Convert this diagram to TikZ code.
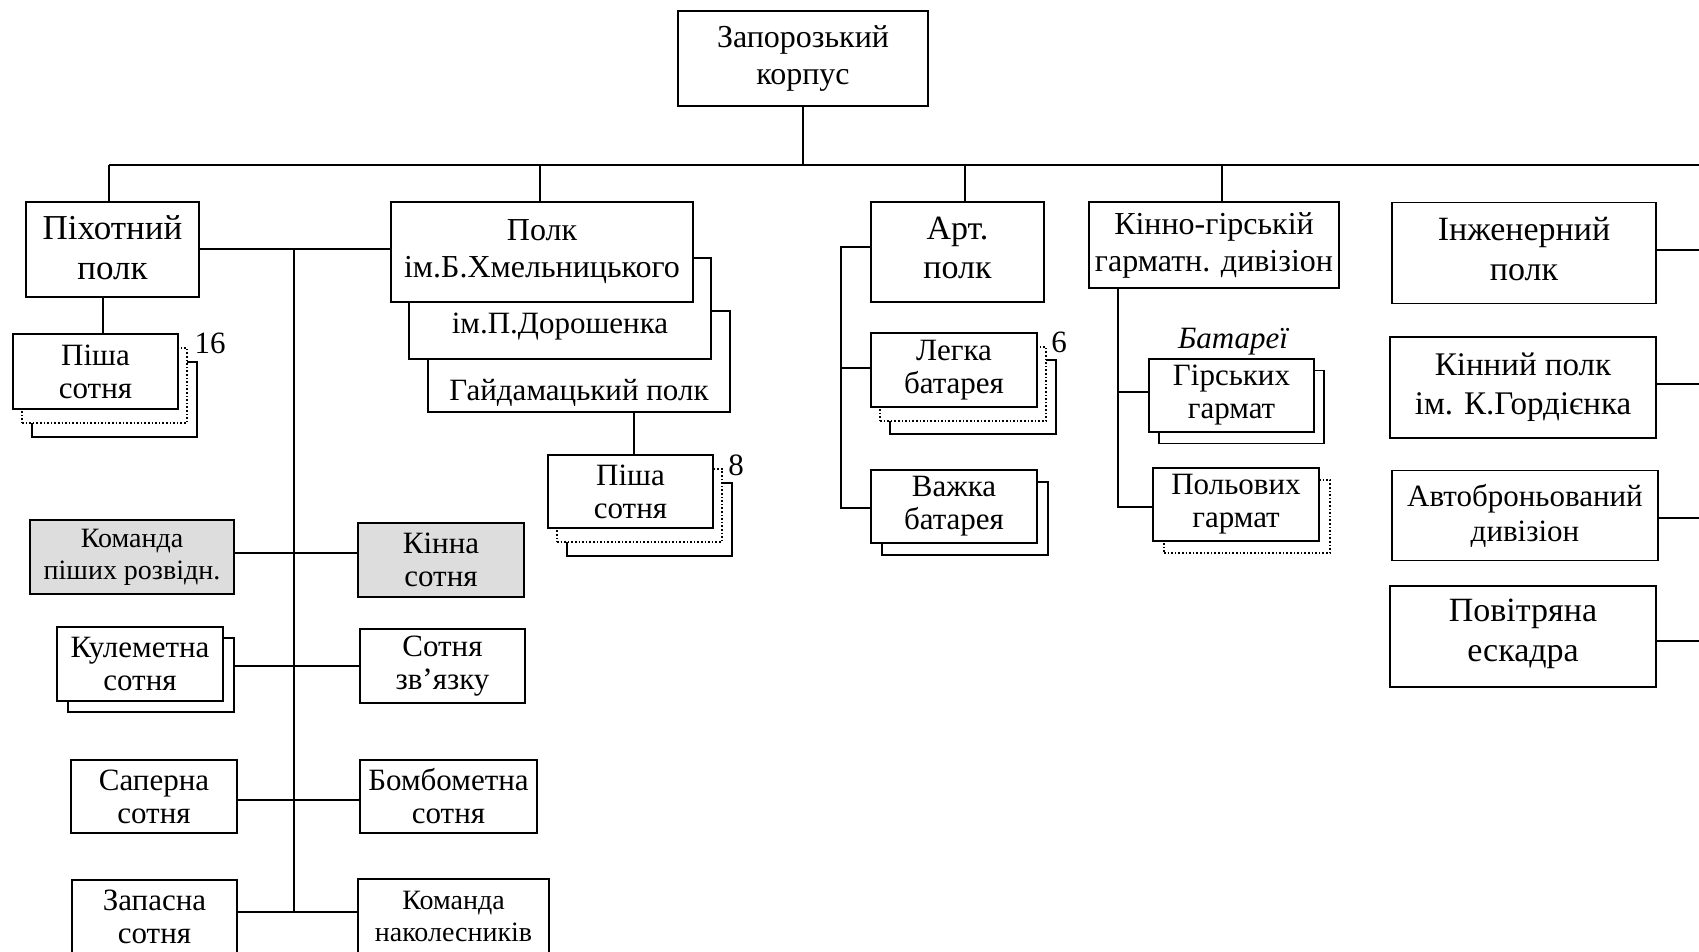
\documentclass[tikz,border=0pt]{standalone}
\usepackage{fontspec}
\setmainfont{Liberation Serif}
\definecolor{boxgray}{RGB}{221,221,221}
\begin{document}
\begin{tikzpicture}[x=1pt,y=-1pt,
  box/.style={draw, line width=1.6pt, fill=white, inner sep=0pt, align=center},
  gbox/.style={box, fill=boxgray},
  dbox/.style={box, dotted},
  sz/.style 2 args={minimum width=#1, minimum height=#2},
  conn/.style={line width=1.6pt},
  fbig/.style={font=\fontsize{34}{40}\selectfont},
  fmid/.style={font=\fontsize{32}{37}\selectfont},
  fsm/.style={font=\fontsize{31}{33}\selectfont},
  ftiny/.style={font=\fontsize{28}{32}\selectfont},
  txt/.style={inner sep=0pt, font=\fontsize{31}{33}\selectfont},
  num/.style={inner sep=0pt, font=\fontsize{31}{33}\selectfont}
]
\useasboundingbox (0,0) rectangle (1699,952);

% top
\node[box, sz={250}{95}, font=\fontsize{32}{37}\selectfont] (top) at (803,58.5) {Запорозький\\корпус};
\coordinate (busL) at (109,165);
\coordinate (busR) at (1699,165);
\coordinate (d2) at (540,165);
\coordinate (d3) at (965,165);
\coordinate (d4) at (1222,165);
\draw[conn] (top.south) -- (top.south |- busL);
\draw[conn] (busL) -- (busR);

% infantry regiment
\node[box, sz={173}{95}, font=\fontsize{35}{40}\selectfont, text depth=4pt] (pih) at (112.5,249.5) {Піхотний\\полк};
\draw[conn] (busL) -- (busL |- pih.north);
\node[box, sz={165}{75}] (p1c) at (114.5,399.5) {};
\node[dbox, sz={165}{75}] (p1b) at (104.5,385.5) {};
\node[box, sz={165}{75}, fsm] (p1) at (95.5,371.5) {Піша\\сотня};
\node[num] (n16) at (210,343) {16};
\coordinate (c1) at (103,297);
\draw[conn] (c1) -- (c1 |- p1.north);

% regiments stack
\node[box, sz={302}{101}] (polk3) at (579,361.5) {};
\node[box, sz={302}{101}] (polk2) at (560,308.5) {};
\node[box, sz={302}{100}, fmid] (polk1) at (542,252) {Полк\\ім.Б.Хмельницького};
\node[txt, anchor=base] (t2) at (560,333) {ім.П.Дорошенка};
\node[txt, anchor=base] (t3) at (579,400) {Гайдамацький полк};
\draw[conn] (d2) -- (d2 |- polk1.north);

\node[box, sz={165}{73}] (p2c) at (649.5,519.5) {};
\node[dbox, sz={165}{73}] (p2b) at (639.5,505.5) {};
\node[box, sz={165}{73}, fsm] (p2) at (630.5,491.5) {Піша\\сотня};
\node[num] (n8) at (736,465) {8};
\coordinate (c2) at (634,412);
\draw[conn] (c2) -- (c2 |- p2.north);

% spine
\coordinate (hl) at (294,249);
\coordinate (s1) at (294,553);
\coordinate (s2) at (294,666);
\coordinate (s3) at (294,800);
\coordinate (s4) at (294,912);
\draw[conn] (hl -| pih.east) -- (hl -| polk1.west);
\draw[conn] (hl) -- (s4);

\node[gbox, sz={204}{74}, ftiny] (komanda) at (132,557) {Команда\\піших розвідн.};
\node[gbox, sz={166}{74}, fsm] (kinna) at (441,560) {Кінна\\сотня};
\node[box, sz={166}{74}] (kulemb) at (151,675) {};
\node[box, sz={166}{74}, fsm] (kulem) at (140,664) {Кулеметна\\сотня};
\node[box, sz={165}{74}, fsm] (zvyaz) at (442.5,666) {Сотня\\зв’язку};
\node[box, sz={166}{73}, fsm] (saper) at (154,796.5) {Саперна\\сотня};
\node[box, sz={177}{73}, fsm] (bomb) at (448.5,796.5) {Бомбометна\\сотня};
\node[box, sz={165}{74}, fsm] (zapas) at (154.5,917) {Запасна\\сотня};
\node[box, sz={191}{74}, ftiny] (nakol) at (453.5,916) {Команда\\наколесників};
\draw[conn] (s1 -| komanda.east) -- (s1 -| kinna.west);
\draw[conn] (s2 -| kulemb.east) -- (s2 -| zvyaz.west);
\draw[conn] (s3 -| saper.east) -- (s3 -| bomb.west);
\draw[conn] (s4 -| zapas.east) -- (s4 -| nakol.west);

% artillery
\node[box, sz={173}{100}, font=\fontsize{34}{39}\selectfont, text depth=8pt] (art) at (957.5,252) {Арт.\\полк};
\draw[conn] (d3) -- (d3 |- art.north);
\node[box, sz={166}{74}] (lgc) at (973,397) {};
\node[dbox, sz={166}{74}] (lgb) at (963,384) {};
\node[box, sz={166}{74}, fsm] (legka) at (954,370) {Легка\\батарея};
\node[num] (n6) at (1059,342) {6};
\node[box, sz={166}{73}] (vzb) at (965,518.5) {};
\node[box, sz={166}{73}, fsm] (vazhka) at (954,506.5) {Важка\\батарея};
\coordinate (a1) at (841,247);
\coordinate (a2) at (841,368);
\coordinate (a3) at (841,508);
\draw[conn] (a1 -| art.west) -- (a1) -- (a3) -- (a3 -| vazhka.west);
\draw[conn] (a2) -- (a2 -| legka.west);

% mountain division
\node[box, sz={250}{86}, fmid] (kinno) at (1214,245) {Кінно-гірській\\гарматн. дивізіон};
\draw[conn] (d4) -- (d4 |- kinno.north);
\node[inner sep=0pt, font=\fontsize{31}{33}\selectfont\itshape] (bat) at (1233,342) {Батареї};
\node[box, sz={165}{73}] (girsb) at (1241.5,407) {};
\node[box, sz={165}{73}, fsm] (girs) at (1231.5,395.5) {Гірських\\гармат};
\node[dbox, sz={166}{73}] (polb) at (1247,516.5) {};
\node[box, sz={166}{73}, fsm] (polov) at (1236,504.5) {Польових\\гармат};
\coordinate (k1) at (1118,392);
\coordinate (k2) at (1118,507);
\draw[conn] (k1 |- kinno.south) -- (k2) -- (k2 -| polov.west);
\draw[conn] (k1) -- (k1 -| girs.west);

% right column
\node[box, sz={264}{101}, font=\fontsize{34}{40}\selectfont, text depth=8pt] (inzh) at (1524,253) {Інженерний\\полк};
\node[box, sz={266}{101}, font=\fontsize{33}{39.5}\selectfont] (kinpolk) at (1523,387.4) {Кінний полк\\ім. К.Гордієнка};
\node[box, sz={266}{90}, font=\fontsize{31}{35}\selectfont] (avto) at (1525,515.5) {Автоброньований\\дивізіон};
\node[box, sz={266}{101}, font=\fontsize{34}{40}\selectfont, text depth=12pt] (povitr) at (1523,636.5) {Повітряна\\ескадра};
\coordinate (r1) at (1699,250);
\coordinate (r2) at (1699,384);
\coordinate (r3) at (1699,518);
\coordinate (r4) at (1699,641);
\draw[conn] (r1 -| inzh.east) -- (r1);
\draw[conn] (r2 -| kinpolk.east) -- (r2);
\draw[conn] (r3 -| avto.east) -- (r3);
\draw[conn] (r4 -| povitr.east) -- (r4);
\end{tikzpicture}
\end{document}
